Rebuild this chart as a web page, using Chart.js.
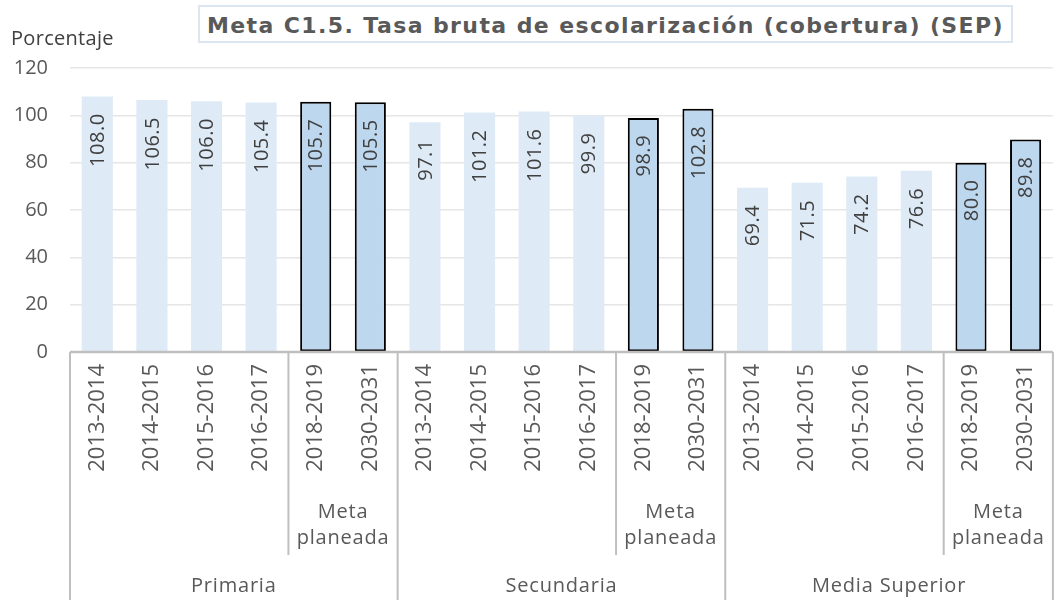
<!DOCTYPE html>
<html>
<head>
<meta charset="utf-8">
<script src="https://cdn.jsdelivr.net/npm/chart.js@4.4.0/dist/chart.umd.min.js"></script>
<style>
    html, body { margin: 0; padding: 0; background: #fff; overflow: hidden; }
    #wrap { position: relative; width: 1064px; height: 600px; }
    #titulo {
        position: absolute; left: 198px; top: 5px; width: 815px; height: 38px;
        box-sizing: border-box; border: 2px solid #dce6f2; background: #fff;
        font-family: 'DejaVu Sans', sans-serif; font-weight: 700; font-size: 22px;
        letter-spacing: 1.4px; color: #595959; text-align: center; line-height: 37px;
        white-space: nowrap; z-index: 2;
    }
    #unidad {
        position: absolute; left: 11px; top: 24px; letter-spacing: 0.3px;
        font-family: 'Open Sans', sans-serif; font-size: 20px; color: #404040;
    }
</style>
</head>
<body>
<div id="wrap">
    <canvas id="grafica" width="1064" height="600"></canvas>
    <div id="titulo">Meta C1.5. Tasa bruta de escolarización (cobertura) (SEP)</div>
    <div id="unidad">Porcentaje</div>
</div>
<script>
const FONT = "'Open Sans', sans-serif";

const periodos = ['2013-2014', '2014-2015', '2015-2016', '2016-2017', '2018-2019', '2030-2031'];
const grupos = ['Primaria', 'Secundaria', 'Media Superior'];
const valoresPrimaria = [108.0, 106.5, 106.0, 105.4, 105.7, 105.5];
const valoresSecundaria = [97.1, 101.2, 101.6, 99.9, 98.9, 102.8];
const valoresMediaSuperior = [69.4, 71.5, 74.2, 76.6, 80.0, 89.8];
const esMeta = [false, false, false, false, true, true];
const etiquetaMeta = ['Meta', 'planeada'];
const yMax = 120;
const yPaso = 20;

const etiquetas = grupos.flatMap(() => periodos);
const valores = [...valoresPrimaria, ...valoresSecundaria, ...valoresMediaSuperior];
const metas = grupos.flatMap(() => esMeta);

// etiquetas de datos giradas dentro de cada barra
const etiquetasDatos = {
    id: 'etiquetasDatos',
    afterDatasetsDraw(chart) {
        const ctx = chart.ctx;
        const meta = chart.getDatasetMeta(0);
        ctx.save();
        ctx.fillStyle = '#404040';
        ctx.font = `20px ${FONT}`;
        ctx.letterSpacing = '0.5px';
        ctx.textAlign = 'right';
        ctx.textBaseline = 'middle';
        meta.data.forEach((bar, i) => {
            ctx.save();
            ctx.translate(bar.x, bar.y + 17);
            ctx.rotate(-Math.PI / 2);
            ctx.fillText(valores[i].toFixed(1), 0, 1);
            ctx.restore();
        });
        ctx.restore();
    }
};

// eje de categorías en varios niveles
const ejeNiveles = {
    id: 'ejeNiveles',
    afterDatasetsDraw(chart) {
        const ctx = chart.ctx;
        const x = chart.scales.x;
        const area = chart.chartArea;
        const ancho = x.getPixelForValue(1) - x.getPixelForValue(0);
        const borde = k => x.getPixelForValue(0) - ancho / 2 + k * ancho;
        const n = periodos.length;

        ctx.save();
        ctx.strokeStyle = '#bfbfbf';
        ctx.lineWidth = 2.5;
        ctx.beginPath();
        ctx.moveTo(area.left, area.bottom);
        ctx.lineTo(area.right, area.bottom);
        ctx.stroke();

        ctx.lineWidth = 2;
        grupos.forEach((g, gi) => {
            const inicio = gi * n;
            const primeraMeta = inicio + esMeta.indexOf(true);
            ctx.beginPath();
            ctx.moveTo(borde(inicio), area.bottom);
            ctx.lineTo(borde(inicio), 600);
            ctx.moveTo(borde(primeraMeta), area.bottom);
            ctx.lineTo(borde(primeraMeta), 555);
            ctx.stroke();
        });
        ctx.beginPath();
        ctx.moveTo(borde(grupos.length * n), area.bottom);
        ctx.lineTo(borde(grupos.length * n), 600);
        ctx.stroke();

        ctx.fillStyle = '#595959';
        ctx.font = `20px ${FONT}`;
        ctx.letterSpacing = '0.8px';
        ctx.textAlign = 'center';
        ctx.textBaseline = 'alphabetic';
        grupos.forEach((g, gi) => {
            const inicio = gi * n;
            const idx = metas.map((m, i) => i).filter(i => metas[i] && i >= inicio && i < inicio + n);
            const cx = (x.getPixelForValue(idx[0]) + x.getPixelForValue(idx[idx.length - 1])) / 2;
            ctx.fillText(etiquetaMeta[0], cx, 518);
            ctx.fillText(etiquetaMeta[1], cx, 544);
            const gx = (borde(inicio) + borde(inicio + n)) / 2;
            ctx.fillText(g, gx, 592);
        });
        ctx.restore();
    }
};

new Chart(document.getElementById('grafica'), {
    type: 'bar',
    data: {
        labels: etiquetas,
        datasets: [{
            data: valores,
            backgroundColor: c => metas[c.dataIndex] ? '#bdd7ee' : '#deebf7',
            borderColor: c => metas[c.dataIndex] ? '#000000' : 'rgba(0,0,0,0)',
            borderWidth: c => metas[c.dataIndex] ? 2 : 0,
            borderSkipped: false,
            barPercentage: 0.57,
            categoryPercentage: 1
        }]
    },
    options: {
        responsive: false,
        animation: false,
        layout: { padding: { top: 68, left: 0, right: 0, bottom: 0 } },
        plugins: {
            legend: { display: false },
            tooltip: { enabled: false }
        },
        scales: {
            x: {
                offset: true,
                grid: { display: false, drawTicks: false },
                border: { display: false },
                ticks: {
                    autoSkip: false,
                    minRotation: 90,
                    maxRotation: 90,
                    padding: 12,
                    color: '#595959',
                    font: { family: FONT, size: 22 }
                },
                afterFit: s => { s.height = 248; }
            },
            y: {
                min: 0,
                max: yMax,
                ticks: {
                    stepSize: yPaso,
                    padding: 22,
                    color: '#595959',
                    font: { family: FONT, size: 20 }
                },
                grid: {
                    color: c => c.tick.value === 0 ? 'rgba(0,0,0,0)' : '#e6e6e6',
                    lineWidth: 1.5,
                    drawTicks: false
                },
                border: { display: false },
                afterFit: s => { s.width = 70; }
            }
        }
    },
    plugins: [etiquetasDatos, ejeNiveles]
});
</script>
</body>
</html>
